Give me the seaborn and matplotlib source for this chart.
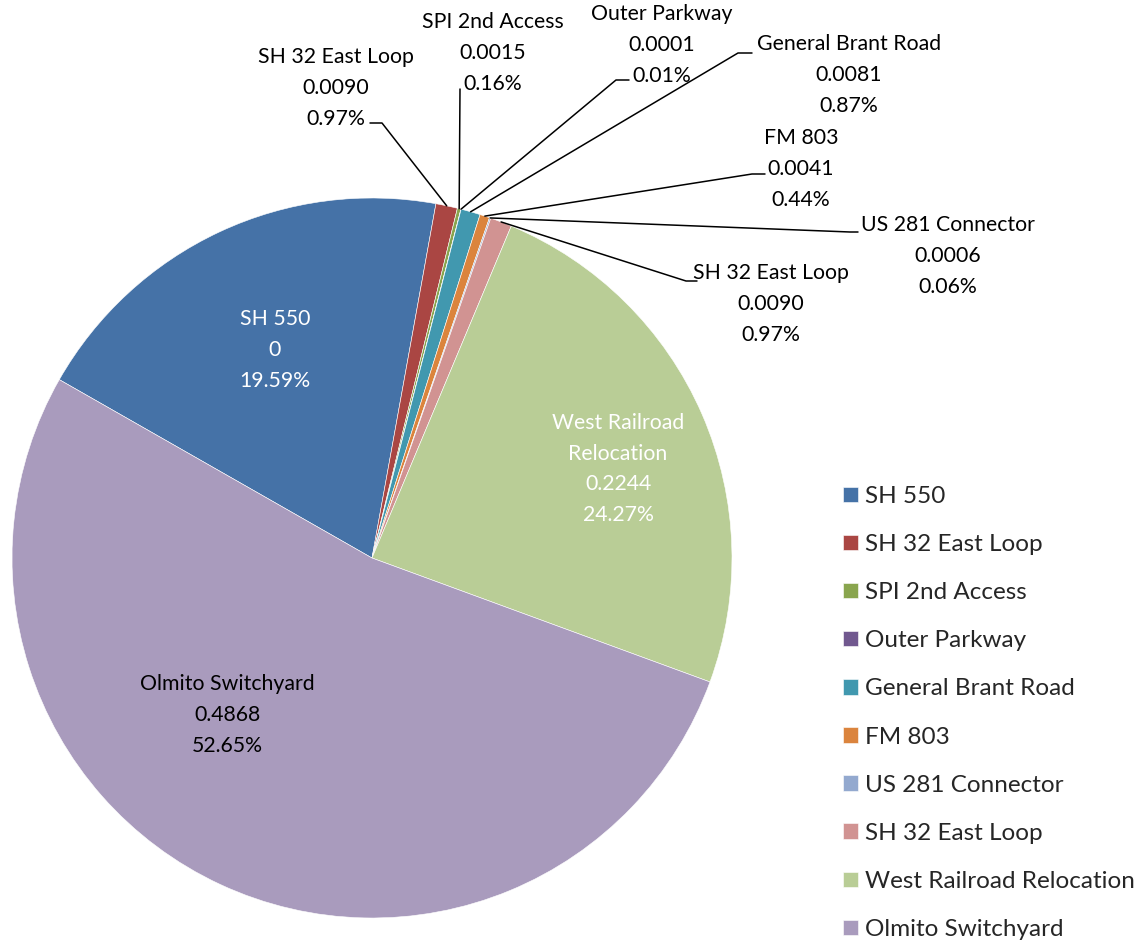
import numpy as np
import matplotlib
matplotlib.use("Agg")
import matplotlib.pyplot as plt
import seaborn as sns

# Data
names = ["SH 550", "SH 32 East Loop", "SPI 2nd Access", "Outer Parkway",
         "General Brant Road", "FM 803", "US 281 Connector", "SH 32 East Loop",
         "West Railroad Relocation", "Olmito Switchyard"]
percents = [19.59, 0.97, 0.16, 0.01, 0.87, 0.44, 0.06, 0.97, 24.27, 52.65]
value_labels = ["0", "0.0090", "0.0015", "0.0001", "0.0081", "0.0041",
                "0.0006", "0.0090", "0.2244", "0.4868"]
colors = ["#4572A7", "#AA4643", "#89A54E", "#71588F", "#4198AF",
          "#DB843D", "#93A9CF", "#D19392", "#B9CD96", "#A99BBD"]

sns.set_theme(style="white")
plt.rcParams["font.family"] = ["Lato", "DejaVu Sans"]

W, H = 1147, 947
CX, CY, R = 372, 558, 360
START = 150.3

fig = plt.figure(figsize=(W / 100, H / 100), dpi=100)
ax = fig.add_axes([(CX - R) / W, (H - CY - R) / H, 2 * R / W, 2 * R / H])

wedges, _ = ax.pie(percents, colors=colors, startangle=START, counterclock=False,
                   radius=1, wedgeprops={"edgecolor": "white", "linewidth": 0.4})
ax.set_xlim(-1, 1)
ax.set_ylim(-1, 1)
ax.axis("off")


def px(x, y):
    # pixel position -> data coords of the pie axes
    return (x - CX) / R, (CY - y) / R


label_fs = 15.3
line_sp = 1.68
total = sum(percents)
cum = np.cumsum([0] + percents[:-1])
mid_angles = [START - (c + p / 2) / total * 360 for c, p in zip(cum, percents)]

# inside labels: index -> (text center px, color)
inside = {0: ((275, 350), "white"), 8: ((618, 469), "white"), 9: ((227, 715), "black")}
# outside labels: index -> (text center px, leader points px from text side)
outside = {
    1: ((336, 88), [(370, 123), (382, 123)]),
    2: ((493, 53), [(460, 89)]),
    3: ((662, 45), [(629, 80), (616, 80)]),
    4: ((849, 75), [(752, 53), (738, 53)]),
    5: ((801, 169), [(765, 174), (752, 174)]),
    6: ((948, 256), [(858, 232), (850, 232)]),
    7: ((771, 304), [(697, 281), (686, 281)]),
}

for i, name in enumerate(names):
    pct = f"{percents[i]:.2f}%"
    if i in inside:
        (tx, ty), col = inside[i]
        text = name if i != 8 else "West Railroad\nRelocation"
        ax.text(*px(tx, ty), f"{text}\n{value_labels[i]}\n{pct}", ha="center", va="center",
                color=col, fontsize=label_fs, linespacing=line_sp)
    else:
        (tx, ty), pts = outside[i]
        ax.text(*px(tx, ty), f"{name}\n{value_labels[i]}\n{pct}", ha="center", va="center",
                color="black", fontsize=label_fs, linespacing=line_sp)
        a = np.deg2rad(mid_angles[i])
        xs = [px(*p)[0] for p in pts] + [np.cos(a)]
        ys = [px(*p)[1] for p in pts] + [np.sin(a)]
        ax.plot(xs, ys, color="black", lw=1.1, clip_on=False)

fig.legend(wedges, names, loc="upper left", bbox_to_anchor=(843 / W, 1 - 486 / H),
           frameon=False, fontsize=17.5, handlelength=0.6, handleheight=0.6,
           handletextpad=0.3, labelspacing=1.115, borderpad=0, borderaxespad=0)

fig.savefig("out.png", dpi=100)
